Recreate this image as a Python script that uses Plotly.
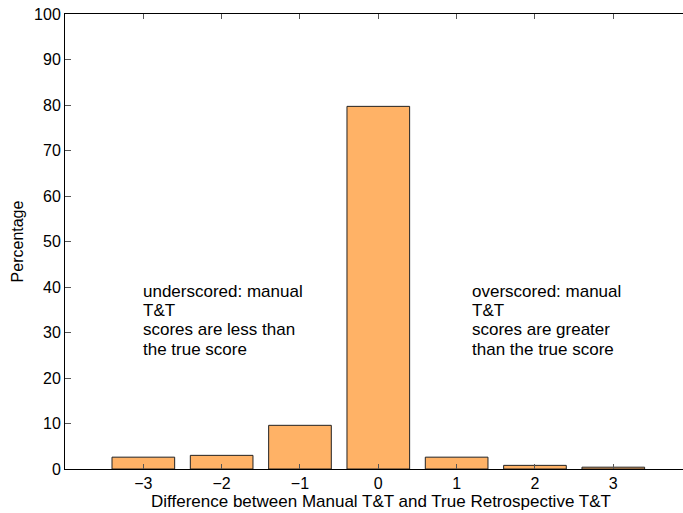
import plotly.graph_objects as go

# Score difference categories (manual minus true retrospective T&T)
differences = [-3, -2, -1, 0, 1, 2, 3]
percentages = [2.6, 3.0, 9.6, 79.7, 2.6, 0.8, 0.4]

y_ticks = list(range(0, 101, 10))

under_lines = ["underscored: manual", "T&T", "scores are less than", "the true score"]
over_lines = ["overscored: manual", "T&T", "scores are greater", "than the true score"]

x_title = "Difference between Manual T&T and True Retrospective T&T"

font_family = "Liberation Sans, Arial, Helvetica, sans-serif"
LINE_PX = 19.2

fig = go.Figure()
fig.add_trace(go.Bar(
    x=differences,
    y=percentages,
    width=0.8,
    marker=dict(color="#FFB266", line=dict(color="#222222", width=1)),
    showlegend=False,
))

# Each note is laid out line by line to control the line spacing
for x0, lines in ((-3, under_lines), (1.2, over_lines)):
    for i, line in enumerate(lines):
        fig.add_annotation(x=x0, y=39.0, xref="x", yref="y", text=line,
                           showarrow=False, xanchor="left", yanchor="middle",
                           align="left", yshift=-LINE_PX * i, xshift=-2,
                           font=dict(size=17, color="black", family=font_family))

# x-axis title placed just under the tick labels
fig.add_annotation(x=0, y=0, xref="x", yref="paper", text=x_title,
                   showarrow=False, xanchor="center", yanchor="middle",
                   yshift=-32, xshift=3,
                   font=dict(size=17, color="black", family=font_family))

fig.update_layout(
    width=683, height=513,
    margin=dict(l=65, r=0, t=14, b=44),
    paper_bgcolor="white", plot_bgcolor="white",
    font=dict(family=font_family, size=16, color="black"),
    bargap=0.2,
)
fig.update_xaxes(
    range=[-4, 3.89],
    tickvals=differences,
    ticks="inside", ticklen=5, tickcolor="#555555",
    showline=True, linecolor="black", linewidth=1, mirror="ticks",
    showgrid=False, zeroline=False,
    tickfont=dict(size=16),
)
fig.update_yaxes(
    range=[0, 100],
    tickvals=y_ticks,
    ticks="inside", ticklen=6, tickcolor="#555555",
    showline=True, linecolor="black", linewidth=1, mirror=False,
    showgrid=False, zeroline=False,
    title=dict(text="Percentage", standoff=6, font=dict(size=16)),
    tickfont=dict(size=16),
)

fig.write_html("out.html")
